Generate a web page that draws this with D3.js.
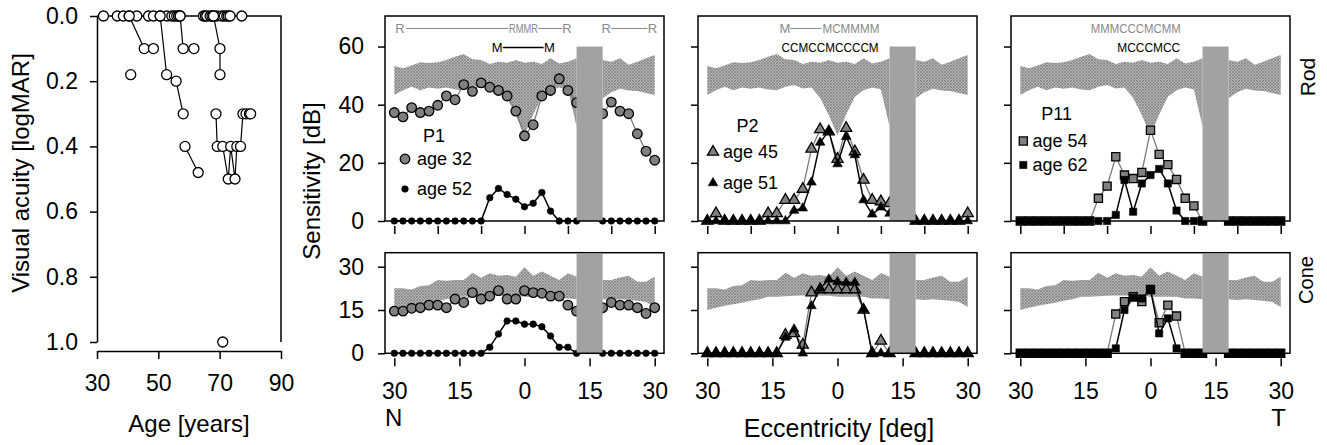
<!DOCTYPE html>
<html>
<head>
<meta charset="utf-8">
<script src="https://cdn.jsdelivr.net/npm/d3@7/dist/d3.min.js"></script>
<style>
  body { margin: 0; background: #fff; }
  svg { display: block; }
</style>
</head>
<body>
<div id="chart"></div>
<script>
/* eccentricity grid, degrees (14 and 16 fall in the blind spot) */
const ecc = [-30, -28, -26, -24, -22, -20, -18, -16, -14, -12, -10, -8, -6, -4, -2, 0,
  2, 4, 6, 8, 10, 12, 14, 16, 18, 20, 22, 24, 26, 28, 30];

/* normal range bands */
const rodBandUpper = [53.3, 52.5, 53.5, 54.6, 54.3, 54.6, 55.4, 56.5, 57.4, 55.6, 55.4, 54, 54.8, 54.4, 55.4, 54.4,
  54.8, 54, 56, 54.2, 54.8, 56, null, null, 55.4, 54.8, 56, 53.7, 54.8, 56, 57.1];
const rodBandLower = [43.3, 45, 46.2, 45, 45.9, 45.5, 45.9, 45.2, 45, 46.2, 46.8, 45.6, 45.9, 42.3, 36.4, 29.5,
  36.6, 42.7, 45, 45.9, 45.2, 32.5, null, null, 42.2, 44.3, 45.5, 44.9, 44.7, 44, 43.3];
const coneBandUpper = [22.5, 22.5, 22.1, 23.3, 23.6, 25.4, 25.1, 25.4, 25.4, 27.9, 26.2, 27.7, 26.9, 27.1, 26.5, 29.8,
  26.9, 28.3, 26.9, 25.4, 27.7, 26.5, null, null, 25.4, 25.4, 26.3, 26.9, 24.8, 24.8, 26.5];
const coneBandLower = [15, 15.8, 16.5, 17, 17.5, 18.2, 18.7, 19.6, 19.6, 19.8, 19.9, 20, 20, 19.9, 19.9, 19.6,
  19.6, 19.6, 19.6, 19, 19, 18.7, null, null, 18.7, 18.5, 18.7, 18.5, 18.2, 17.8, 16];

/* P1 */
const p1RodAge32 = [37.3, 35.8, 39, 37.3, 37.8, 39.8, 43, 41.7, 46.9, 44.6, 47.5, 46, 44.9, 43, 37.8, 29.3,
  33.1, 43, 44.9, 48.9, 44.9, 40.7, null, null, 36.9, 40.9, 37.8, 36.9, 30, 24, 20.9];
const p1RodAge52 = [0, 0, 0, 0, 0, 0, 0, 0, 0, 0, 0, 8, 11.2, 9.1, 7.5, 4.9,
  6.1, 9.8, 3.4, 0, 0, 0, null, null, 0, 0, 0, 0, 0, 0, 0];
const p1ConeAge32 = [14.6, 14.6, 15.6, 15.8, 16.7, 16.7, 15.8, 18.8, 17.6, 21, 18.8, 19.8, 21.7, 18.8, 18.8, 21.7,
  21, 20.8, 19.8, 19.8, 16.7, 14.6, null, null, 15.8, 17.6, 16.7, 16.7, 15.8, 13.8, 15.8];
const p1ConeAge52 = [0, 0, 0, 0, 0, 0, 0, 0, 0, 0, 0, 2.1, 6.7, 11.2, 11.2, 10.1,
  10.1, 9.2, 6, 2.1, 2.1, 0, null, null, 0, 0, 0, 0, 0, 0, 0];

/* P2 */
const p2RodAge45 = [0, 2.6, 0, 0, 0, 0, 0, 2.6, 2.6, 7.2, 7.2, 11, 24.8, 31.5, 30.7, 21.3,
  31.9, 23.9, 14.1, 7.2, 6.7, 6.1, null, null, 0, 0, 0, 0, 0, 0, 2.6];
const p2RodAge51 = [0, 0, 0, 0, 0, 0, 0, 0, 0, 0, 3.6, 4.4, 13.3, 27, 31, 19.6,
  29, 22.7, 7.2, 2.3, 4.7, 2.6, null, null, 0, 0, 0, 0, 0, 0, 0];
const p2ConeAge45 = [0, 0, 0, 0, 0, 0, 0, 0, 0, 6.3, 6.9, 2.9, 21, 22.1, 22.1, 22.1,
  22.1, 22.1, 15, 0, 4.3, 0, null, null, 0, 0, 0, 0, 0, 0, 0];
const p2ConeAge51 = [0, 0, 0, 0, 0, 0, 0, 0, 0, 5.5, 8.3, 0, 16.4, 22.5, 25.6, 24.8,
  24.5, 24.5, 15.2, 0, 0, 0, null, null, 0, 0, 0, 0, 0, 0, 0];

/* P11 */
const p11RodAge54 = [0, 0, 0, 0, 0, 0, 0, 0, 0, 7.8, 12, 22.1, 15.8, 14.6, 16.7, 31.2,
  22.9, 19.4, 14.3, 7.8, 5.2, 0, null, null, 0, 0, 0, 0, 0, 0, 0];
const p11RodAge62 = [0, 0, 0, 0, 0, 0, 0, 0, 0, 0, 0, 2.1, 14.1, 3.2, 12.9, 15.8,
  17.9, 12.9, 3.6, 0, 0, 0, null, null, 0, 0, 0, 0, 0, 0, 0];
const p11ConeAge54 = [0, 0, 0, 0, 0, 0, 0, 0, 0, 0, 0, 13.6, 17.9, 19.6, 17.9, 22.1,
  10.6, 16.7, 12.9, 0, 0, 0, null, null, 0, 0, 0, 0, 0, 0, 0];
const p11ConeAge62 = [0, 0, 0, 0, 0, 0, 0, 0, 0, 0, 0, 1.7, 15, 19.3, 19, 22.1,
  6.9, 12.1, 1.7, 0, 0, 0, null, null, 0, 0, 0, 0, 0, 0, 0];

/* visual acuity vs age */
const vaZeroAges = [32.1, 36.6, 38.6, 40.5, 43, 46.8, 48.4, 50.6, 52.8, 54.4, 55.2, 56, 56.6, 57.1,
  64.7, 65.3, 65.8, 66.9, 67.5, 68, 69.1, 70.7, 71.5, 72.3, 72.8, 73.4, 77.2];
const vaTracks = [
  [[40.5, 0], [45.4, 0.1], [48.4, 0.1]],
  [[50.6, 0], [52.7, 0.18], [55.8, 0.2], [58.1, 0.3]],
  [[57.1, 0], [58.1, 0.1], [61.6, 0.1]],
  [[58.7, 0.4], [63, 0.48]],
  [[68, 0], [70.1, 0.1], [70.1, 0.18]],
  [[68.8, 0.3], [69.2, 0.4], [71, 0.4], [72.8, 0.5], [73.6, 0.4], [75, 0.5], [75.6, 0.4],
   [76.8, 0.4], [77.6, 0.3], [78.6, 0.3], [79.7, 0.3], [80.1, 0.3]]
];
const vaSingles = [[41, 0.18], [71, 1.0]];

/* ticks */
const ageTicks = [30, 50, 70, 90];
const vaTicks = [0, 0.2, 0.4, 0.6, 0.8, 1.0];
const rodTicks = [0, 20, 40, 60];
const coneTicks = [0, 15, 30];
const topEccTicks = [-30, -20, -10, 0, 10, 20, 30];
const bottomEccTicks = [-30, -15, 0, 15, 30];
const blindSpot = [12, 18];

const FONT = "'Liberation Sans', Arial, Helvetica, sans-serif";
const width = 1327;
const height = 445;

const svg = d3.select("#chart")
  .append("svg")
  .attr("width", width)
  .attr("height", height)
  .style("font-family", FONT);

/* crosshatch used for the normal range */
const defs = svg.append("defs");
const hatch = defs.append("pattern")
  .attr("id", "hatch")
  .attr("patternUnits", "userSpaceOnUse")
  .attr("width", 3)
  .attr("height", 3);
hatch.append("rect").attr("width", 3).attr("height", 3).attr("fill", "#b4b4b4");
hatch.append("path")
  .attr("d", "M0,0L3,3M3,0L0,3")
  .attr("stroke", "#858585")
  .attr("stroke-width", 0.8);

/* ---------- left panel: visual acuity ---------- */
const xAge = d3.scaleLinear().domain([30, 90]).range([97, 281]);
const yVA = d3.scaleLinear().domain([0, 1]).range([16, 342]);

const left = svg.append("g");

left.append("path")
  .attr("d", `M${xAge(30)},${yVA(0)}H${xAge(90)}V${yVA(1)}`)
  .attr("fill", "none")
  .attr("stroke", "#000")
  .attr("stroke-width", 1.5);

const vaAxis = left.append("g")
  .attr("transform", `translate(${xAge(30)},0)`)
  .call(d3.axisLeft(yVA).tickValues(vaTicks).tickFormat(d3.format(".1f")).tickSize(7).tickPadding(12).tickSizeOuter(0));

const ageAxis = left.append("g")
  .attr("transform", "translate(0,351)")
  .call(d3.axisBottom(xAge).tickValues(ageTicks).tickSize(8).tickPadding(16).tickSizeOuter(0));

[vaAxis, ageAxis].forEach(a => {
  a.attr("font-family", FONT).attr("font-size", 23);
  a.selectAll("path,line").attr("stroke", "#000").attr("stroke-width", 1.5);
  a.selectAll("text").attr("fill", "#000");
});

const vaLine = d3.line().x(d => xAge(d[0])).y(d => yVA(d[1]));
left.selectAll(".track")
  .data(vaTracks)
  .join("path")
  .attr("d", vaLine)
  .attr("fill", "none")
  .attr("stroke", "#000")
  .attr("stroke-width", 1.2);

const vaPoints = vaZeroAges.map(a => [a, 0])
  .concat(vaTracks.flat())
  .concat(vaSingles);
left.selectAll(".va")
  .data(vaPoints)
  .join("circle")
  .attr("cx", d => xAge(d[0]))
  .attr("cy", d => yVA(d[1]))
  .attr("r", 5)
  .attr("fill", "#fff")
  .attr("stroke", "#000")
  .attr("stroke-width", 1.3);

left.append("text")
  .attr("x", 189)
  .attr("y", 432)
  .attr("text-anchor", "middle")
  .attr("font-size", 24)
  .text("Age [years]");

left.append("text")
  .attr("transform", "translate(29,173) rotate(-90)")
  .attr("text-anchor", "middle")
  .attr("font-size", 24)
  .text("Visual acuity [logMAR]");

/* ---------- right panels ---------- */
const panelLefts = [385, 698, 1011];
const panelW = 279;
const rows = [
  { key: "rod", top: 16, bottom: 221, max: 70.5, ticks: rodTicks, eccTicks: topEccTicks,
    band: [rodBandLower, rodBandUpper], barTop: 60 },
  { key: "cone", top: 252.7, bottom: 353.3, max: 34.85, ticks: coneTicks, eccTicks: bottomEccTicks,
    band: [coneBandLower, coneBandUpper], barTop: 34.4 }
];

const patients = [
  { name: "P1", shape: "circle", rod: [p1RodAge32, p1RodAge52], cone: [p1ConeAge32, p1ConeAge52],
    ages: ["age 32", "age 52"],
    legend: { tx: 49, ty: 142, mx: 20, lx: 32, y1: 159, y2: 189 },
    grayNotes: [{ at: -28.7, t: "R" }, { at: -0.25, t: "RMMR", w: 29 }, { at: 9.8, t: "R" },
      { at: 18.8, t: "R" }, { at: 29.5, t: "R" }],
    grayLinks: [[-27.3, -3.7], [3.2, 8.7], [20, 28.3]],
    blackNotes: [{ at: -6.3, t: "M" }, { at: 5.75, t: "M" }],
    blackLinks: [[-5, 4.4]] },
  { name: "P2", shape: "triangle", rod: [p2RodAge45, p2RodAge51], cone: [p2ConeAge45, p2ConeAge51],
    ages: ["age 45", "age 51"],
    legend: { tx: 49.5, ty: 132, mx: 15, lx: 25, y1: 152, y2: 183 },
    grayNotes: [{ at: -12.1, t: "M" }, { at: 3.1, t: "MCMMMM", w: 57 }],
    grayLinks: [[-10.9, -3.7]],
    blackNotes: [{ at: -1.7, t: "CCMCCMCCCCM", w: 97 }],
    blackLinks: [] },
  { name: "P11", shape: "square", rod: [p11RodAge54, p11RodAge62], cone: [p11ConeAge54, p11ConeAge62],
    ages: ["age 54", "age 62"],
    legend: { tx: 45.7, ty: 120, mx: 12.3, lx: 21.5, y1: 141, y2: 165 },
    grayNotes: [{ at: -3.4, t: "MMMCCCMCMM", w: 90 }],
    grayLinks: [],
    blackNotes: [{ at: -0.4, t: "MCCCMCC", w: 63 }],
    blackLinks: [] }
];

function markerPath(shape, gray) {
  if (shape === "triangle") return d3.symbol(d3.symbolTriangle, gray ? 54 : 40)();
  if (shape === "square") return d3.symbol(d3.symbolSquare, gray ? 66 : 52)();
  return d3.symbol(d3.symbolCircle, gray ? 72 : 34)();
}

function styleMarker(sel, gray) {
  sel.attr("fill", gray ? "#808080" : "#000")
    .attr("stroke", "#000")
    .attr("stroke-width", gray ? 1.3 : 0.6);
}

patients.forEach((p, pi) => {
  const x0 = panelLefts[pi];
  const x = d3.scaleLinear().domain([-30, 30]).range([x0 + 9.3, x0 + panelW - 9.3]);

  rows.forEach((row, ri) => {
    const y = d3.scaleLinear().domain([0, row.max]).range([row.bottom, row.top]);
    const g = svg.append("g");

    // normal range
    const bandData = ecc.map((e, i) => ({ e, lo: row.band[0][i], hi: row.band[1][i] }));
    g.append("path")
      .datum(bandData)
      .attr("d", d3.area()
        .defined(d => d.lo !== null && d.hi !== null)
        .x(d => x(d.e)).y0(d => y(d.lo)).y1(d => y(d.hi)))
      .attr("fill", "url(#hatch)");

    // the two visits
    const series = p[row.key];
    series.forEach((vals, si) => {
      const gray = si === 0;
      const all = ecc.map((e, i) => ({ e, v: vals[i] }));
      const pts = all.filter(d => d.v !== null);
      g.append("path")
        .datum(all)
        .attr("d", d3.line().defined(d => d.v !== null).x(d => x(d.e)).y(d => y(d.v)))
        .attr("fill", "none")
        .attr("stroke", gray ? "#7a7a7a" : "#000")
        .attr("stroke-width", gray ? 1.3 : 1.5);
      g.selectAll(null)
        .data(pts)
        .join("path")
        .attr("d", markerPath(p.shape, gray))
        .attr("transform", d => `translate(${x(d.e)},${y(d.v)})`)
        .call(styleMarker, gray);
    });

    // blind spot
    g.append("rect")
      .attr("x", x(blindSpot[0]))
      .attr("width", x(blindSpot[1]) - x(blindSpot[0]))
      .attr("y", y(row.barTop))
      .attr("height", y(0) - y(row.barTop))
      .attr("fill", "#a2a2a2");

    // frame
    g.append("rect")
      .attr("x", x0)
      .attr("y", row.top)
      .attr("width", panelW)
      .attr("height", row.bottom - row.top)
      .attr("fill", "none")
      .attr("stroke", "#000")
      .attr("stroke-width", 1.5);

    const yAxis = g.append("g")
      .attr("transform", `translate(${x0},0)`)
      .call(d3.axisLeft(y).tickValues(row.ticks).tickSize(7).tickPadding(14).tickSizeOuter(0));
    yAxis.select(".domain").remove();
    if (pi > 0) yAxis.selectAll("text").remove();

    const xAxis = g.append("g")
      .attr("transform", `translate(0,${row.bottom + 5})`)
      .call(d3.axisBottom(x).tickValues(row.eccTicks).tickSize(8).tickPadding(16)
        .tickFormat(d => Math.abs(d)));
    xAxis.select(".domain").remove();
    if (ri === 0) xAxis.selectAll("text").remove();

    [yAxis, xAxis].forEach(a => {
      a.attr("font-family", FONT).attr("font-size", 23);
      a.selectAll("line").attr("stroke", "#000").attr("stroke-width", 1.5);
      a.selectAll("text").attr("fill", "#000");
    });

    if (ri === 0) {
      // legend
      const L = p.legend;
      g.append("text")
        .attr("x", x0 + L.tx).attr("y", L.ty)
        .attr("text-anchor", "middle")
        .attr("font-size", 18)
        .text(p.name);
      [L.y1, L.y2].forEach((ly, k) => {
        g.append("path")
          .attr("d", markerPath(p.shape, k === 0))
          .attr("transform", `translate(${x0 + L.mx},${ly})`)
          .call(styleMarker, k === 0);
        g.append("text")
          .attr("x", x0 + L.lx).attr("y", ly + 6)
          .attr("font-size", 18)
          .text(p.ages[k]);
      });

      // test-type annotations
      const notes = [
        { items: p.grayNotes, links: p.grayLinks, color: "#8a8a8a", base: 33, w: 1 },
        { items: p.blackNotes, links: p.blackLinks, color: "#000", base: 52, w: 1.5 }
      ];
      notes.forEach(n => {
        n.items.forEach(it => {
          const t = g.append("text")
            .attr("x", x(it.at)).attr("y", n.base)
            .attr("text-anchor", "middle")
            .attr("font-size", 13)
            .attr("fill", n.color)
            .text(it.t);
          if (it.w) t.attr("textLength", it.w).attr("lengthAdjust", "spacingAndGlyphs");
        });
        n.links.forEach(l => {
          g.append("line")
            .attr("x1", x(l[0])).attr("x2", x(l[1]))
            .attr("y1", n.base - 4.5).attr("y2", n.base - 4.5)
            .attr("stroke", n.color)
            .attr("stroke-width", n.w);
        });
      });
    }
  });
});

svg.append("text")
  .attr("transform", "translate(320,181) rotate(-90)")
  .attr("text-anchor", "middle")
  .attr("font-size", 24)
  .text("Sensitivity [dB]");

svg.append("text")
  .attr("transform", "translate(1315,77) rotate(-90)")
  .attr("text-anchor", "middle")
  .attr("font-size", 21)
  .text("Rod");

svg.append("text")
  .attr("transform", "translate(1313,280) rotate(-90)")
  .attr("text-anchor", "middle")
  .attr("font-size", 20)
  .text("Cone");

svg.append("text")
  .attr("x", 385).attr("y", 426)
  .attr("font-size", 24)
  .text("N");

svg.append("text")
  .attr("x", 1286).attr("y", 426)
  .attr("text-anchor", "end")
  .attr("font-size", 24)
  .text("T");

svg.append("text")
  .attr("x", 839).attr("y", 437)
  .attr("text-anchor", "middle")
  .attr("font-size", 25)
  .text("Eccentricity [deg]");
</script>
</body>
</html>
